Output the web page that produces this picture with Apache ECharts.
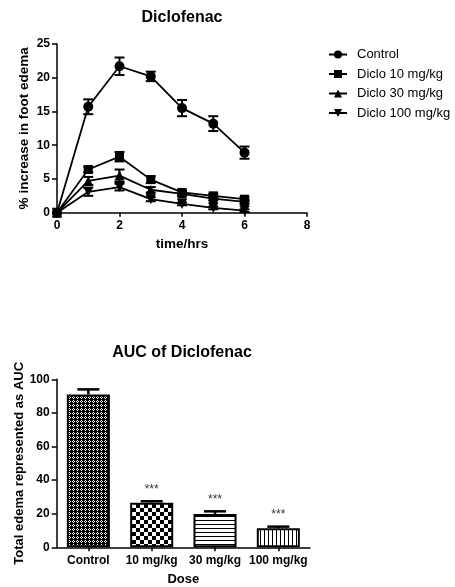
<!DOCTYPE html>
<html>
<head>
<meta charset="utf-8">
<script src="https://cdn.jsdelivr.net/npm/echarts@6/dist/echarts.min.js"></script>
<style>
html,body{margin:0;padding:0;background:#fff;}
#chart{width:455px;height:587px;}
</style>
</head>
<body>
<div id="chart"></div>
<script>
// ---------- Data ----------
const times = [0, 1, 2, 3, 4, 5, 6];
const seriesNames = ['Control', 'Diclo 10 mg/kg', 'Diclo 30 mg/kg', 'Diclo 100 mg/kg'];
const control     = [0, 15.7, 21.7, 20.2, 15.5, 13.2, 8.9];
const controlErr  = [0, 1.1, 1.3, 0.7, 1.2, 1.1, 0.9];
const diclo10     = [0, 6.4, 8.3, 4.9, 3.0, 2.5, 2.0];
const diclo10Err  = [0, 0.4, 0.7, 0.5, 0.3, 0.3, 0.3];
const diclo30     = [0, 4.7, 5.5, 3.4, 2.8, 2.1, 1.6];
const diclo30Err  = [0, 0.6, 0.9, 0.4, 0.3, 0.3, 0.3];
const diclo100    = [0, 3.1, 3.8, 2.0, 1.3, 0.7, 0.3];
const diclo100Err = [0, 0.6, 0.5, 0.3, 0.2, 0.2, 0.2];
const xTicks = [0, 2, 4, 6, 8];
const yTicks = [0, 5, 10, 15, 20, 25];

const doses = ['Control', '10 mg/kg', '30 mg/kg', '100 mg/kg'];
const auc = [91, 26.5, 19.8, 11.3];
const aucErr = [3.0, 0.9, 1.6, 1.0];
const significance = ['', '***', '***', '***'];
const aucTicks = [0, 20, 40, 60, 80, 100];

// ---------- Styles ----------
const FONT = '"Liberation Sans", Arial, Helvetica, sans-serif';

function makePattern(kind) {
  const c = document.createElement('canvas');
  const ctx = c.getContext('2d');
  if (kind === 'dots') {
    c.width = 4; c.height = 4;
    ctx.fillStyle = '#000'; ctx.fillRect(0, 0, 4, 4);
    ctx.fillStyle = '#fff';
    ctx.fillRect(1, 0, 1, 1); ctx.fillRect(0, 1, 1, 1);
    ctx.fillRect(2, 1, 1, 1); ctx.fillRect(1, 2, 1, 1);
  } else if (kind === 'checker') {
    c.width = 8; c.height = 8;
    ctx.fillStyle = '#fff'; ctx.fillRect(0, 0, 8, 8);
    ctx.fillStyle = '#000';
    ctx.fillRect(0, 0, 4, 4); ctx.fillRect(4, 4, 4, 4);
  } else if (kind === 'hlines') {
    c.width = 4; c.height = 4;
    ctx.fillStyle = '#fff'; ctx.fillRect(0, 0, 4, 4);
    ctx.fillStyle = '#000'; ctx.fillRect(0, 0, 4, 1);
  } else {
    c.width = 4; c.height = 4;
    ctx.fillStyle = '#fff'; ctx.fillRect(0, 0, 4, 4);
    ctx.fillStyle = '#000'; ctx.fillRect(0, 0, 1, 4);
  }
  return { image: c, repeat: 'repeat' };
}
const barPatterns = ['dots', 'checker', 'hlines', 'vlines'];

const symbols = ['circle', 'rect', 'triangle', 'path://M0,0 L10,0 L5,10 Z'];
const symbolSizes = [10, 9, 10, 10];
const values = [control, diclo10, diclo30, diclo100];
const errs = [controlErr, diclo10Err, diclo30Err, diclo100Err];

const axisLine = { show: true, lineStyle: { color: '#000', width: 1.5 } };
const axisTick = { show: true, length: 5, lineStyle: { color: '#000', width: 1.5 } };
const tickLabel = { color: '#000', fontFamily: FONT, fontWeight: 'bold', fontSize: 12 };
const nameStyle = { color: '#000', fontFamily: FONT, fontWeight: 'bold', fontSize: 13.5 };

// ---------- Series ----------
const series = [];
values.forEach((vals, k) => {
  series.push({
    name: seriesNames[k],
    type: 'line',
    xAxisIndex: 0, yAxisIndex: 0,
    data: times.map((t, i) => [t, vals[i]]),
    symbol: symbols[k],
    symbolSize: symbolSizes[k],
    showAllSymbol: true,
    itemStyle: { color: '#000' },
    lineStyle: { color: '#000', width: 1.8 },
    z: 3,
    animation: false
  });
});

const errData = [];
values.forEach((vals, k) => {
  times.forEach((t, i) => {
    if (errs[k][i] > 0) errData.push([t, vals[i] - errs[k][i], vals[i] + errs[k][i]]);
  });
});
series.push({
  type: 'custom',
  xAxisIndex: 0, yAxisIndex: 0,
  data: errData,
  encode: { x: 0, y: [1, 2] },
  z: 4,
  silent: true,
  animation: false,
  renderItem(params, api) {
    const x = api.value(0);
    const lo = api.coord([x, api.value(1)]);
    const hi = api.coord([x, api.value(2)]);
    const hw = 5;
    const st = { stroke: '#000', lineWidth: 2 };
    return {
      type: 'group',
      children: [
        { type: 'line', shape: { x1: lo[0], y1: lo[1], x2: hi[0], y2: hi[1] }, style: st },
        { type: 'line', shape: { x1: hi[0] - hw, y1: hi[1], x2: hi[0] + hw, y2: hi[1] }, style: st },
        { type: 'line', shape: { x1: lo[0] - hw, y1: lo[1], x2: lo[0] + hw, y2: lo[1] }, style: st }
      ]
    };
  }
});

series.push({
  type: 'bar',
  xAxisIndex: 1, yAxisIndex: 1,
  barWidth: '68%',
  data: auc.map((v, i) => ({
    value: v,
    itemStyle: { color: makePattern(barPatterns[i]), borderColor: '#000', borderWidth: 2 }
  })),
  animation: false
});

series.push({
  type: 'custom',
  xAxisIndex: 1, yAxisIndex: 1,
  data: auc.map((v, i) => [i, v, v + aucErr[i]]),
  encode: { x: 0, y: [1, 2] },
  z: 4,
  silent: true,
  animation: false,
  renderItem(params, api) {
    const i = api.value(0);
    const base = api.coord([i, api.value(1)]);
    const top = api.coord([i, api.value(2)]);
    const hw = 11;
    const st = { stroke: '#000', lineWidth: 2.5 };
    const children = [
      { type: 'line', shape: { x1: base[0], y1: base[1], x2: top[0], y2: top[1] }, style: st },
      { type: 'line', shape: { x1: top[0] - hw, y1: top[1], x2: top[0] + hw, y2: top[1] }, style: st }
    ];
    const s = significance[params.dataIndex];
    if (s) {
      children.push({
        type: 'text',
        style: {
          x: top[0], y: top[1] - 12, text: s,
          textAlign: 'center', textVerticalAlign: 'middle',
          font: '12px ' + FONT, fill: '#333'
        }
      });
    }
    return { type: 'group', children };
  }
});

const option = {
  backgroundColor: '#fff',
  animation: false,
  textStyle: { fontFamily: FONT },
  graphic: [
    { type: 'text', x: 182, y: 18, style: { text: 'Diclofenac', textAlign: 'center', textVerticalAlign: 'middle', font: 'bold 16px ' + FONT, fill: '#000' } },
    { type: 'text', x: 182, y: 353, style: { text: 'AUC of Diclofenac', textAlign: 'center', textVerticalAlign: 'middle', font: 'bold 16px ' + FONT, fill: '#000' } }
  ],
  legend: {
    data: seriesNames,
    orient: 'vertical',
    left: 328,
    top: 47,
    padding: 0,
    itemWidth: 18,
    itemHeight: 10,
    itemGap: 4.5,
    itemStyle: { color: '#000' },
    lineStyle: { color: '#000', width: 2 },
    textStyle: { color: '#000', fontFamily: FONT, fontSize: 13, lineHeight: 15, padding: [0, 0, 0, 5] }
  },
  grid: [
    { left: 57, top: 44, width: 250, height: 168.7, containLabel: false, outerBoundsMode: 'none' },
    { left: 56.7, top: 379.3, width: 253.3, height: 168, containLabel: false, outerBoundsMode: 'none' }
  ],
  xAxis: [
    {
      type: 'value', gridIndex: 0, min: xTicks[0], max: xTicks[xTicks.length - 1], interval: 2,
      splitLine: { show: false }, axisLine, axisTick: Object.assign({}, axisTick, { length: 4 }),
      axisLabel: Object.assign({ margin: 7 }, tickLabel),
      name: 'time/hrs', nameLocation: 'middle', nameGap: 25, nameMoveOverlap: false, nameTextStyle: nameStyle
    },
    {
      type: 'category', gridIndex: 1, data: doses, boundaryGap: true,
      axisLine, axisTick: Object.assign({ alignWithLabel: true }, axisTick, { length: 4 }),
      axisLabel: Object.assign({ margin: 7, interval: 0 }, tickLabel),
      name: 'Dose', nameLocation: 'middle', nameGap: 26, nameMoveOverlap: false, nameTextStyle: Object.assign({}, nameStyle, { fontSize: 13 })
    }
  ],
  yAxis: [
    {
      type: 'value', gridIndex: 0, min: yTicks[0], max: yTicks[yTicks.length - 1], interval: 5,
      splitLine: { show: false }, axisLine, axisTick,
      axisLabel: Object.assign({ margin: 7 }, tickLabel),
      name: '% increase in foot edema', nameLocation: 'middle', nameGap: 26, nameMoveOverlap: false, nameTextStyle: nameStyle
    },
    {
      type: 'value', gridIndex: 1, min: aucTicks[0], max: aucTicks[aucTicks.length - 1], interval: 20,
      splitLine: { show: false }, axisLine, axisTick,
      axisLabel: Object.assign({ margin: 7 }, tickLabel),
      name: 'Total edema represented as AUC', nameLocation: 'middle', nameGap: 31, nameMoveOverlap: false, nameTextStyle: Object.assign({}, nameStyle, { fontSize: 13 })
    }
  ],
  series
};

const chart = echarts.init(document.getElementById('chart'), null, { renderer: 'canvas' });
chart.setOption(option);
</script>
</body>
</html>
